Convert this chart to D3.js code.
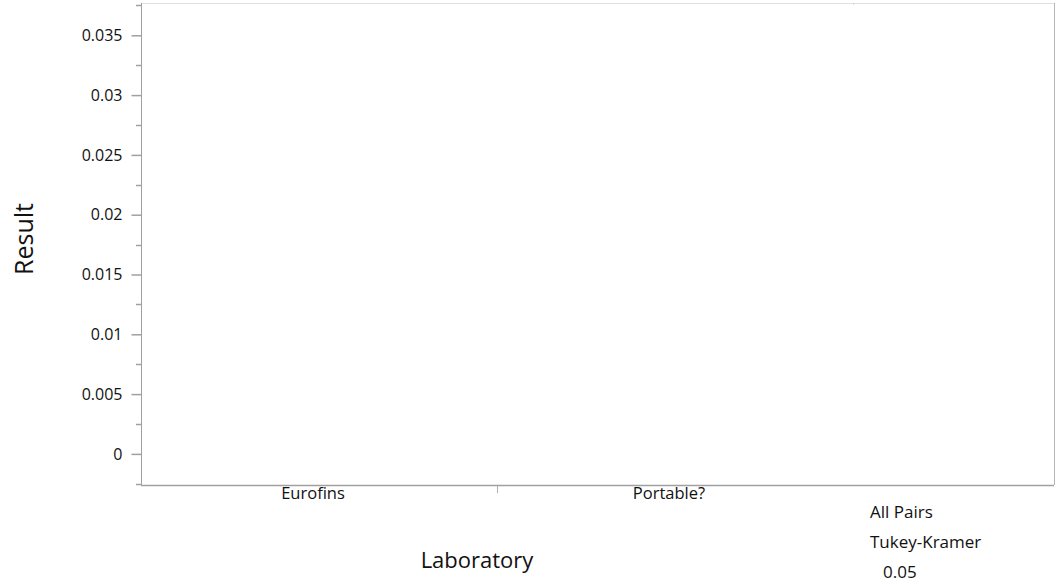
<!DOCTYPE html>
<html><head><meta charset="utf-8">
<script src="https://cdn.jsdelivr.net/npm/d3@7"></script>
<style>body{margin:0;background:#fff;}svg{display:block;font-family:"Open Sans","Noto Sans",sans-serif;}</style>
</head><body>
<svg id="c" width="1061" height="586"></svg>
<script>
const categories = ["Eurofins", "Portable?"];
const resultValues = [];           // no points are shown in the reference
const yTicks = [0, 0.005, 0.01, 0.015, 0.02, 0.025, 0.03, 0.035];
const yTickLabels = ["0", "0.005", "0.01", "0.015", "0.02", "0.025", "0.03", "0.035"];
const yMinorTicks = [-0.0025, 0.0025, 0.0075, 0.0125, 0.0175, 0.0225, 0.0275, 0.0325, 0.0375];
const yDomain = [-0.0026, 0.0377];
const compareLabels = ["All Pairs", "Tukey-Kramer", "0.05"];

(function () {
const svg = d3.select("#c");
const pLeft = 141, pRight = 853, panelRight = 1054, pTop = 3, pBottom = 485;
const axisColor = "#a0a0a0";

const y = d3.scaleLinear().domain(yDomain).range([pBottom, pTop]);
const x = d3.scaleBand().domain(categories).range([pLeft, pRight]);

// frame
svg.append("line").attr("x1", pLeft).attr("x2", panelRight).attr("y1", pTop + 0.5).attr("y2", pTop + 0.5)
  .attr("stroke", "#e0e0e0");
svg.append("line").attr("x1", panelRight + 0.5).attr("x2", panelRight + 0.5).attr("y1", pTop).attr("y2", pBottom)
  .attr("stroke", "#b8b8b8");
svg.append("line").attr("x1", pRight + 0.5).attr("x2", pRight + 0.5).attr("y1", pTop).attr("y2", pTop + 2)
  .attr("stroke", "#d8d8d8");

// y axis
const yAxis = d3.axisLeft(y).tickValues(yTicks).tickFormat((d, i) => yTickLabels[i]).tickSize(10).tickPadding(9);
const gy = svg.append("g").attr("transform", `translate(${pLeft + 0.5},0)`).call(yAxis);
gy.select(".domain").attr("stroke", axisColor).attr("d", `M0,${pTop}V${pBottom}`);
gy.selectAll(".tick line").attr("stroke", axisColor).attr("stroke-width", 1.5);
gy.selectAll(".tick text").attr("font-size", 16).attr("fill", "#111").attr("font-family", "Open Sans");
svg.append("g").selectAll("line").data(yMinorTicks).join("line")
  .attr("x1", pLeft - 5).attr("x2", pLeft).attr("y1", d => Math.round(y(d)) + 0.5).attr("y2", d => Math.round(y(d)) + 0.5)
  .attr("stroke", axisColor).attr("stroke-width", 1.5);

// x axis
svg.append("line").attr("x1", pLeft).attr("x2", panelRight).attr("y1", pBottom + 0.5).attr("y2", pBottom + 0.5)
  .attr("stroke", axisColor).attr("stroke-width", 1.5);
svg.append("g").selectAll("line").data(categories.slice(1)).join("line")
  .attr("x1", d => x(d) + 0.5).attr("x2", d => x(d) + 0.5).attr("y1", pBottom + 1).attr("y2", pBottom + 8)
  .attr("stroke", "#b0b0b0");
svg.append("g").selectAll("text").data(categories).join("text")
  .attr("x", d => x(d) + x.bandwidth() / 2 - 6).attr("y", pBottom + 14)
  .attr("text-anchor", "middle").attr("font-size", 16.5).attr("fill", "#111").text(d => d);

// points (none)
svg.append("g").selectAll("circle").data(resultValues).join("circle")
  .attr("cx", d => x(d.lab) + x.bandwidth() / 2).attr("cy", d => y(d.value)).attr("r", 3);

// axis titles
svg.append("text").attr("transform", "translate(33,239) rotate(-90)").attr("text-anchor", "middle")
  .attr("font-size", 25).attr("fill", "#111").text("Result");
svg.append("text").attr("x", (pLeft + pRight) / 2 - 20).attr("y", 568).attr("text-anchor", "middle")
  .attr("font-size", 22).attr("fill", "#111").text("Laboratory");

// comparison labels
const cx = [870, 870, 883], cy = [518, 548, 578];
svg.append("g").selectAll("text").data(compareLabels).join("text")
  .attr("x", (d, i) => cx[i]).attr("y", (d, i) => cy[i]).attr("font-size", 17).attr("fill", "#111").text(d => d);
})();
</script>
</body></html>
